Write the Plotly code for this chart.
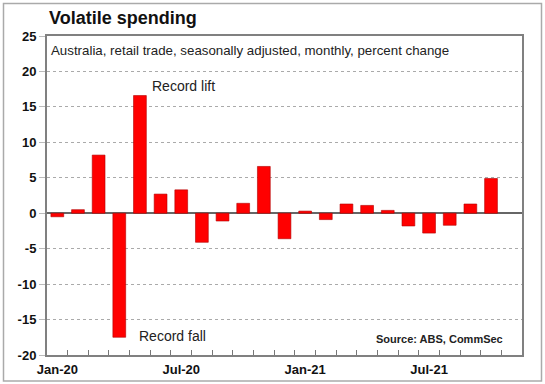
import plotly.graph_objects as go

months = ["Jan-20","Feb-20","Mar-20","Apr-20","May-20","Jun-20","Jul-20","Aug-20","Sep-20","Oct-20","Nov-20","Dec-20",
          "Jan-21","Feb-21","Mar-21","Apr-21","May-21","Jun-21","Jul-21","Aug-21","Sep-21","Oct-21"]
values = [-0.5, 0.5, 8.2, -17.5, 16.6, 2.7, 3.3, -4.1, -1.1, 1.4, 6.6, -3.6,
          0.3, -0.9, 1.3, 1.1, 0.4, -1.8, -2.8, -1.7, 1.3, 4.9]
tick_labels = ["Jan-20", "Jul-20", "Jan-21", "Jul-21"]
y_ticks = [-20, -15, -10, -5, 0, 5, 10, 15, 20, 25]

W, H = 545, 384
L, R, T, B = 47, 23, 36, 29
pw, ph = W - L - R, H - T - B

def px(x):
    return (x - L) / pw

def py(y):
    return (H - B - y) / ph

idx = list(range(len(months)))
font = "Liberation Sans, Arial, sans-serif"

fig = go.Figure()
fig.add_trace(go.Bar(
    x=idx, y=values, width=0.62,
    marker=dict(color="#ff0000", line=dict(color="#b00000", width=0.6)),
    hoverinfo="skip", showlegend=False,
))
# invisible trace on the label axis
fig.add_trace(go.Scatter(x=[0], y=[0], xaxis="x2", mode="markers",
                         marker=dict(opacity=0), hoverinfo="skip", showlegend=False))

fig.update_layout(
    width=W, height=H,
    margin=dict(l=L, r=R, t=T, b=B, autoexpand=False),
    paper_bgcolor="white", plot_bgcolor="white",
    xaxis=dict(
        range=[-0.5, 22.5], automargin=False,
        tickmode="array",
        tickvals=[i - 0.5 for i in range(1, 23)],
        ticktext=[""] * 22,
        ticks="inside", ticklen=5, tickcolor="#777", tickwidth=1,
        showgrid=False, zeroline=False,
        showline=True, linecolor="#808080", linewidth=2, mirror=True,
    ),
    xaxis2=dict(
        range=[-0.5, 22.5], overlaying="x", side="bottom", anchor="y", automargin=False,
        tickmode="array",
        tickvals=[months.index(t) for t in tick_labels],
        ticktext=["<b>%s</b>" % t for t in tick_labels],
        ticks="", showgrid=False, zeroline=False, showline=False,
        tickfont=dict(family=font, size=13, color="#111"),
        ticklabelstandoff=5,
    ),
    yaxis=dict(
        range=[-20, 25], automargin=False,
        tickmode="array", tickvals=y_ticks,
        ticktext=["<b>%d</b>" % v for v in y_ticks],
        showgrid=True, gridcolor="#aaa", griddash="dot", gridwidth=1,
        zeroline=True, zerolinecolor="#666", zerolinewidth=1.5,
        showline=True, linecolor="#808080", linewidth=2, mirror=True,
        ticks="outside", ticklen=6, tickcolor="#bbb", tickwidth=1,
        tickfont=dict(family=font, size=13, color="#111"),
    ),
    font=dict(family=font),
)

annotations = [
    dict(text="<b>Volatile spending</b>", x=px(47), y=py(18), xanchor="left", yanchor="middle",
         font=dict(size=18, color="#111")),
    dict(text="Australia, retail trade, seasonally adjusted, monthly, percent change", x=px(49), y=py(50),
         xanchor="left", yanchor="middle", font=dict(size=13.3, color="#222")),
    dict(text="Record lift", x=px(150), y=py(86), xanchor="left", yanchor="middle",
         font=dict(size=14, color="#222")),
    dict(text="Record fall", x=px(137), y=py(336), xanchor="left", yanchor="middle",
         font=dict(size=14, color="#222")),
    dict(text="<b>Source: ABS, CommSec</b>", x=px(505), y=py(339), xanchor="right", yanchor="middle",
         font=dict(size=11, color="#222")),
]
for a in annotations:
    a.update(xref="paper", yref="paper", showarrow=False)
fig.update_layout(annotations=annotations)

fig.add_shape(type="rect", xref="paper", yref="paper",
              x0=px(3.5), x1=px(541.5), y0=py(381), y1=py(3.5),
              line=dict(color="#aaa", width=1.5), fillcolor="rgba(0,0,0,0)", layer="below")

fig.write_html("out.html", config={"displayModeBar": False},
               post_script="document.body.style.margin='0';")
